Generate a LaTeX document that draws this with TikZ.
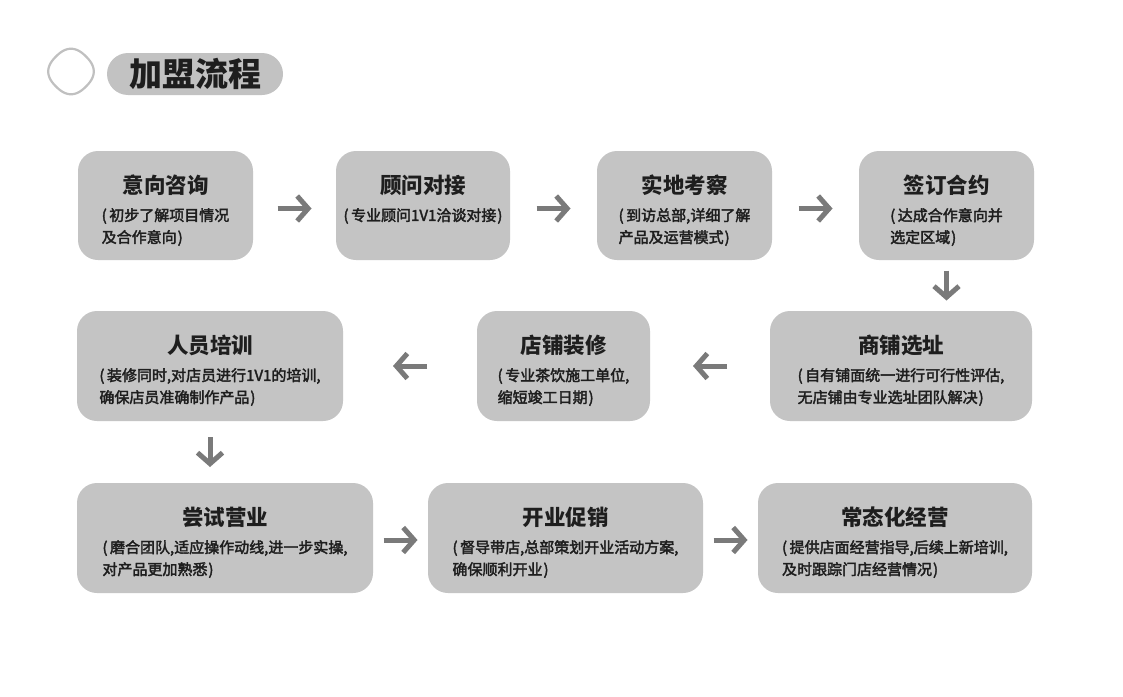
\documentclass[tikz,border=0pt]{standalone}
\usepackage{fontspec}
\setmainfont{Noto Sans CJK SC}
\newfontfamily\subfont[FakeBold=2.5]{Noto Sans CJK SC}
\usetikzlibrary{arrows.meta,calc}
\definecolor{boxgray}{HTML}{C4C4C4}
\definecolor{pillgray}{HTML}{C2C2C2}
\definecolor{ringgray}{HTML}{C0C0C0}
\definecolor{arrowgray}{HTML}{7A7A7A}
\definecolor{txt}{HTML}{1E1E1E}
\newcommand\lp{(\kern2.5pt}
\newcommand\rp{\kern1pt)}
\tikzset{
  box/.style={draw=none, fill=boxgray, rounded corners=20pt, inner sep=0pt, outer sep=0pt},
  ttl/.style={text=txt, font=\fontsize{21.5pt}{24pt}\selectfont\bfseries, inner sep=0pt},
  sub/.style={text=txt, font=\fontsize{15pt}{22pt}\selectfont\subfont, align=left, inner sep=0pt},
  arr/.style={draw=arrowgray, line width=5pt, -{Straight Barb[length=11pt,width=25pt]}},
}
\newcommand\flowbox[7]{%
  \node[box, minimum width={#4-#2}, minimum height={#5-#3}] (#1) at ({(#2+#4)/2},{(#3+#5)/2}) {};
  \node[ttl] (#1t) at ([yshift=-34pt]#1.north) {#6};
  \node[sub, anchor=north] (#1s) at ([yshift=-57pt]#1.north) {#7};
}
\newcommand\harrow[3][0]{%
  \draw[arr] ($ ($(#2)!.5!(#3)$)!17pt!(#2) + (0,#1) $) -- ($ ($(#2)!.5!(#3)$)!17pt!(#3) + (0,#1) $);
}
\newcommand\varrow[2]{%
  \draw[arr] ($ ($(#1.south)!.5!(#1.south |- #2.north)$)+(0,-15) $) -- ($ ($(#1.south)!.5!(#1.south |- #2.north)$)+(0,15) $);
}
\begin{document}
\begin{tikzpicture}[x=1pt,y=-1pt]
\fill[white] (0,0) rectangle (1123,696);
\useasboundingbox (0,0) rectangle (1123,696);
% header
\draw[ringgray, line width=2.2pt, fill=white] plot[domain=0:360, samples=120, smooth cycle]
  ({71+22*(1+0.035*cos(4*\x))*cos(\x)}, {71.5+22*(1+0.035*cos(4*\x))*sin(\x)});
\node[fill=pillgray, rounded corners=21pt, minimum width=176pt, minimum height=42pt, inner sep=0pt] (pill) at (195,74) {};
\node[text=txt, font=\fontsize{33pt}{36pt}\selectfont\bfseries, inner sep=0pt] (head) at (pill.center) {加盟流程};
% row 1
\flowbox{b1}{78}{151}{253}{260}{意向咨询}{\lp 初步了解项目情况\\及合作意向\rp}
\flowbox{b2}{336}{151}{510}{260}{顾问对接}{\lp 专业顾问1V1洽谈对接\rp}
\flowbox{b3}{597}{151}{772}{260}{实地考察}{\lp 到访总部,详细了解\\产品及运营模式\rp}
\flowbox{b4}{859}{151}{1034}{260}{签订合约}{\lp 达成合作意向并\\选定区域\rp}
% row 2
\flowbox{b5}{770}{311}{1032}{421}{商铺选址}{\lp 自有铺面统一进行可行性评估,\\无店铺由专业选址团队解决\rp}
\flowbox{b6}{477}{311}{650}{421}{店铺装修}{\lp 专业茶饮施工单位,\\缩短竣工日期\rp}
\flowbox{b7}{77}{311}{343}{421}{人员培训}{\lp 装修同时,对店员进行1V1的培训,\\确保店员准确制作产品\rp}
% row 3
\flowbox{b8}{77}{483}{373}{593}{尝试营业}{\lp 磨合团队,适应操作动线,进一步实操,\\对产品更加熟悉\rp}
\flowbox{b9}{428}{483}{703}{593}{开业促销}{\lp 督导带店,总部策划开业活动方案,\\确保顺利开业\rp}
\flowbox{b10}{758}{483}{1032}{593}{常态化经营}{\lp 提供店面经营指导,后续上新培训,\\及时跟踪门店经营情况\rp}
% connectors
\harrow[3]{b1.east}{b2.west}
\harrow[3]{b2.east}{b3.west}
\harrow[3]{b3.east}{b4.west}
\varrow{b4}{b5}
\harrow{b5.west}{b6.east}
\harrow{b6.west}{b7.east}
\varrow{b7}{b8}
\harrow[2]{b8.east}{b9.west}
\harrow[2]{b9.east}{b10.west}
\end{tikzpicture}
\end{document}
